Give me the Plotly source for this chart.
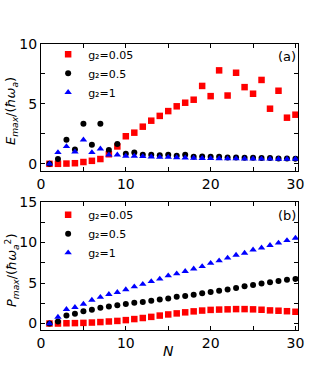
import plotly.graph_objects as go

N = list(range(1, 31))

# panel (a): E_max / (hbar omega_a)
e_g005 = [0, 0, 0.02, 0.05, 0.15, 0.25, 0.4, 0.8, 1.45, 2.3, 2.6, 3.1, 3.6, 4.0, 4.4,
          4.8, 5.1, 5.35, 6.5, 5.65, 7.8, 5.7, 7.6, 6.4, 5.85, 7.0, 4.6, 6.1, 3.85, 4.1]
e_g05 = [0, 0.4, 2.0, 1.2, 3.35, 1.6, 3.35, 1.15, 1.65, 0.85, 0.95, 0.75, 0.75, 0.72, 0.75,
         0.68, 0.75, 0.6, 0.62, 0.58, 0.6, 0.53, 0.52, 0.5, 0.5, 0.48, 0.48, 0.45, 0.45, 0.43]
e_g1 = [0, 0.95, 1.45, 1.0, 2.0, 0.95, 1.25, 0.75, 0.75, 0.65, 0.65, 0.62, 0.58, 0.55, 0.55,
        0.52, 0.5, 0.48, 0.46, 0.45, 0.44, 0.43, 0.43, 0.42, 0.42, 0.41, 0.41, 0.4, 0.4, 0.4]

# panel (b): P_max / (hbar omega_a^2)
p_g005 = [0, 0, 0.03, 0.05, 0.08, 0.12, 0.18, 0.25, 0.32, 0.42, 0.55, 0.68, 0.82, 0.98, 1.12,
          1.25, 1.38, 1.5, 1.6, 1.68, 1.72, 1.75, 1.78, 1.78, 1.75, 1.7, 1.62, 1.58, 1.52, 1.45]
p_g05 = [0, 0.25, 1.0, 1.2, 1.5, 1.7, 1.95, 2.1, 2.25, 2.4, 2.55, 2.65, 2.8, 2.95, 3.1,
         3.3, 3.4, 3.55, 3.75, 3.9, 4.05, 4.2, 4.4, 4.6, 4.75, 4.95, 5.1, 5.25, 5.4, 5.5]
p_g1 = [0, 0.8, 1.75, 2.0, 2.4, 2.9, 3.25, 3.6, 3.85, 4.2, 4.55, 4.85, 5.2, 5.5, 5.9,
        6.15, 6.45, 6.75, 7.05, 7.45, 7.75, 8.1, 8.45, 8.7, 9.1, 9.35, 9.65, 9.95, 10.25, 10.55]

labels = ["g₂=0.05", "g₂=0.5", "g₂=1"]
colors = ["#ff0000", "#000000", "#0000ff"]
symbols = ["square", "circle", "triangle-up"]
sizes = [6.5, 6, 6.5]

FONT = "DejaVu Sans"

fig = go.Figure()

for ys, lab, c, s, sz in zip([e_g005, e_g05, e_g1], labels, colors, symbols, sizes):
    fig.add_trace(go.Scatter(x=N, y=ys, mode="markers", name=lab, legend="legend",
                             marker=dict(color=c, symbol=s, size=sz, line=dict(width=0)),
                             xaxis="x", yaxis="y"))
for ys, lab, c, s, sz in zip([p_g005, p_g05, p_g1], labels, colors, symbols, sizes):
    fig.add_trace(go.Scatter(x=N, y=ys, mode="markers", name=lab, legend="legend2",
                             marker=dict(color=c, symbol=s, size=sz, line=dict(width=0)),
                             xaxis="x2", yaxis="y2"))

ax_common = dict(showline=True, linecolor="black", linewidth=1, mirror="allticks",
                 ticks="inside", ticklen=4, tickcolor="black", showgrid=False, zeroline=False,
                 automargin=False,
                 tickfont=dict(family=FONT, size=14, color="black"))

xa = dict(ax_common, range=[0, 30.3], tickvals=[0, 10, 20, 30],
          minor=dict(tickvals=[5, 15, 25], ticks="inside", ticklen=4, tickcolor="black"))

leg = dict(xanchor="left", yanchor="top", bgcolor="rgba(0,0,0,0)",
           font=dict(family=FONT, size=11, color="black"), tracegroupgap=0,
           itemwidth=30, traceorder="normal")

fig.update_layout(
    width=332, height=372,
    autosize=False,
    margin=dict(l=0, r=0, t=0, b=0, pad=0, autoexpand=False),
    paper_bgcolor="white", plot_bgcolor="white",
    xaxis=dict(xa, domain=[0.1235, 0.8976], anchor="y"),
    yaxis=dict(ax_common, domain=[0.5403, 0.8817], range=[-0.6, 10], anchor="x",
               tickvals=[0, 5, 10],
               minor=dict(tickvals=[2.5, 7.5], ticks="inside", ticklen=4, tickcolor="black")),
    xaxis2=dict(xa, domain=[0.1235, 0.8976], anchor="y2"),
    yaxis2=dict(ax_common, domain=[0.1129, 0.457], range=[-0.8, 15], anchor="x2",
                tickvals=[0, 5, 10, 15],
                minor=dict(tickvals=[2.5, 7.5, 12.5], ticks="inside", ticklen=4, tickcolor="black")),
    legend=dict(leg, x=0.145, y=0.893),
    legend2=dict(leg, x=0.145, y=0.462),
    annotations=[
        dict(text="(a)", x=0.897, y=0.874, xref="paper", yref="paper", xanchor="right",
             yanchor="top", showarrow=False, font=dict(family=FONT, size=13, color="black")),
        dict(text="(b)", x=0.897, y=0.446, xref="paper", yref="paper", xanchor="right",
             yanchor="top", showarrow=False, font=dict(family=FONT, size=13, color="black")),
        dict(text="<i>E</i><sub><i>max</i></sub>/(<i>ħω</i><sub><i>a</i></sub>)",
             x=12 / 332, y=1 - 111 / 372, xref="paper", yref="paper", textangle=-90,
             xanchor="center", yanchor="middle",
             showarrow=False, font=dict(family=FONT, size=13, color="black")),
        dict(text="<i>P</i><sub><i>max</i></sub>/(<i>ħω</i><sub><i>a</i></sub><sup>2</sup>)",
             x=12 / 332, y=1 - 270 / 372, xref="paper", yref="paper", textangle=-90,
             xanchor="center", yanchor="middle",
             showarrow=False, font=dict(family=FONT, size=13, color="black")),
        dict(text="<i>N</i>", x=168 / 332, y=1 - 351 / 372, xref="paper", yref="paper",
             xanchor="center", yanchor="middle",
             showarrow=False, font=dict(family=FONT, size=14, color="black")),
    ],
)

# drop the browser's default 8px body margin so the figure sits at (0, 0)
fig.write_html("out.html", config={"displayModeBar": False},
               post_script="document.body.style.margin='0px';")
